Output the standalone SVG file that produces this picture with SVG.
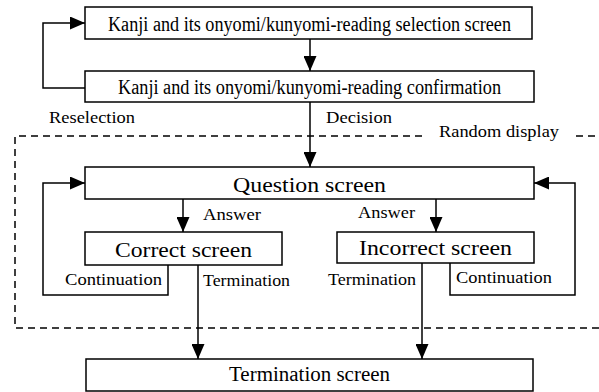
<svg xmlns="http://www.w3.org/2000/svg" width="599" height="392" viewBox="0 0 599 392">
<style>
.box{fill:#fff;stroke:#000;stroke-width:1.5}
.ln{fill:none;stroke:#000;stroke-width:1.5}
.dash{fill:none;stroke:#000;stroke-width:1.5;stroke-dasharray:7 5}
text{font-family:"Liberation Serif","Times New Roman",serif;fill:#000}
.big{font-size:20px}
.mid{font-size:22px;text-anchor:middle}
.lbl{font-size:17px}
</style>
<defs>
<marker id="ah" markerUnits="userSpaceOnUse" markerWidth="15" markerHeight="13" refX="15" refY="6.5" orient="auto">
<path d="M0,0 L15,6.5 L0,13 z" fill="#000"/>
</marker>
</defs>
<rect width="599" height="392" fill="#fff"/>
<g id="random-display">
<path class="dash" d="M422,136 H15 V328 H599"/>
<path class="dash" d="M576,136 H599"/>
<text class="lbl" x="439" y="137" textLength="120" lengthAdjust="spacingAndGlyphs">Random display</text>
</g>
<g id="connectors">
<path class="ln" d="M310,39 V71" marker-end="url(#ah)"/>
<path class="ln" d="M85,88 H43 V23 H85" marker-end="url(#ah)"/>
<path class="ln" d="M310,102 V167" marker-end="url(#ah)"/>
<path class="ln" d="M183,199 V232" marker-end="url(#ah)"/>
<path class="ln" d="M436,199 V232" marker-end="url(#ah)"/>
<path class="ln" d="M168,265 V295 H43 V183 H85" marker-end="url(#ah)"/>
<path class="ln" d="M450,263 V295 H575 V183 H534" marker-end="url(#ah)"/>
<path class="ln" d="M198,265 V359" marker-end="url(#ah)"/>
<path class="ln" d="M422,263 V359" marker-end="url(#ah)"/>
<text class="lbl" x="49" y="123" textLength="86" lengthAdjust="spacingAndGlyphs">Reselection</text>
<text class="lbl" x="326" y="123" textLength="66" lengthAdjust="spacingAndGlyphs">Decision</text>
<text class="lbl" x="203" y="220" textLength="58" lengthAdjust="spacingAndGlyphs">Answer</text>
<text class="lbl" x="358" y="218" textLength="57" lengthAdjust="spacingAndGlyphs">Answer</text>
<text class="lbl" x="65" y="285" textLength="97" lengthAdjust="spacingAndGlyphs">Continuation</text>
<text class="lbl" x="203" y="286" textLength="87" lengthAdjust="spacingAndGlyphs">Termination</text>
<text class="lbl" x="328" y="285" textLength="88" lengthAdjust="spacingAndGlyphs">Termination</text>
<text class="lbl" x="456" y="283" textLength="96" lengthAdjust="spacingAndGlyphs">Continuation</text>
</g>
<g id="selection-screen">
<rect class="box" x="85" y="7" width="447" height="32"/>
<text class="big" x="108" y="31" textLength="403" lengthAdjust="spacingAndGlyphs">Kanji and its onyomi/kunyomi-reading selection screen</text>
</g>
<g id="confirmation">
<rect class="box" x="85" y="71" width="449" height="31"/>
<text class="big" x="118" y="94" textLength="383" lengthAdjust="spacingAndGlyphs">Kanji and its onyomi/kunyomi-reading confirmation</text>
</g>
<g id="question-screen">
<rect class="box" x="85" y="167" width="449" height="32"/>
<text class="mid" x="309.5" y="192" textLength="153" lengthAdjust="spacingAndGlyphs">Question screen</text>
</g>
<g id="correct-screen">
<rect class="box" x="85" y="232" width="197" height="33"/>
<text class="mid" x="183.5" y="257" textLength="137" lengthAdjust="spacingAndGlyphs">Correct screen</text>
</g>
<g id="incorrect-screen">
<rect class="box" x="337" y="232" width="197" height="31"/>
<text class="mid" x="435.5" y="255" textLength="153" lengthAdjust="spacingAndGlyphs">Incorrect screen</text>
</g>
<g id="termination-screen">
<rect class="box" x="86" y="359" width="447" height="32"/>
<text class="big" x="309.5" y="381" text-anchor="middle" textLength="161" lengthAdjust="spacingAndGlyphs">Termination screen</text>
</g>
</svg>
